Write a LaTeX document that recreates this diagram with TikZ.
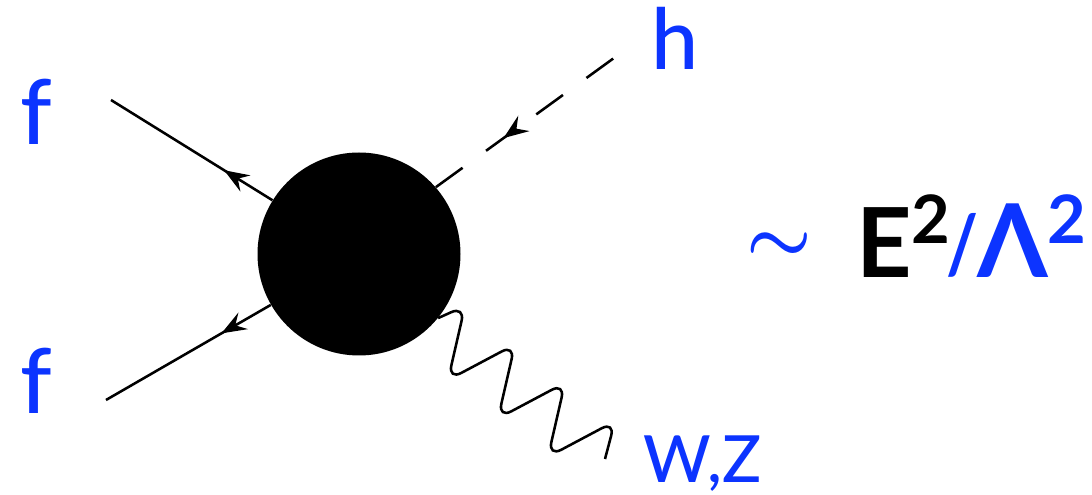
\documentclass[tikz,border=0pt]{standalone}
\usepackage{fontspec}
\setmainfont{Lato Medium}
\newfontfamily\heavyfont{Lato Bold}
\usepackage{xcolor}
\usepackage{tikz}
\usetikzlibrary{arrows.meta,decorations.markings}
\definecolor{labelblue}{RGB}{12,52,255}
\newcommand{\suptwo}{\raisebox{0.68cm}{\fontsize{38}{38}\selectfont 2}}
\begin{document}
\begin{tikzpicture}[
  >={Stealth[length=0.5cm,width=0.38cm,inset=0.18cm]},
  lbl/.style={anchor=base west, inner sep=0pt, text=labelblue, font=\fontsize{48}{48}\selectfont},
  big/.style={lbl, font=\fontsize{#1}{#1}\selectfont\heavyfont},
  line/.style={line width=1.45pt},
  midarrow/.style={postaction={decorate}, decoration={markings, mark=at position #1 with {\arrow{>}}}},
  midarrowback/.style={postaction={decorate}, decoration={markings, mark=at position #1 with {\arrowreversed{>}}}}
]
  \useasboundingbox (0,0) rectangle (21.84,9.9);
  \node[circle, fill=black, inner sep=0pt, minimum size=4.06cm] (blob) at (7.18,4.82) {};

  \coordinate (fa) at (2.22,7.90);
  \coordinate (fb) at (2.12,1.90);
  \coordinate (hend) at (12.28,8.74);
  \coordinate (wend) at (12.10,0.72);

  \node[lbl, font=\fontsize{51}{51}\selectfont] (f1) at (0.40,7.0) {f};
  \node[lbl, font=\fontsize{51}{51}\selectfont] (f2) at (0.40,1.62) {f};
  \node[lbl] (h) at (13.02,8.5) {h};
  \node[lbl, font=\fontsize{37}{37}\selectfont] (wz) at (12.86,0.24) {W,Z};
  \node[lbl, anchor=center] (sim) at (15.58,4.95) {\scalebox{1.68}{\boldmath$\sim$}};
  \node[big=55, text=black] (e2) at (17.12,4.34) {E\suptwo};
  \node[big=46] (slash) at (18.92,4.42) {\scalebox{0.85}[1]{/}};
  \node[big=58] (lam2) at (19.54,4.34) {Λ\suptwo};

  \draw[line, midarrow=0.3] (blob) -- (fa);
  \draw[line, midarrow=0.3] (blob) -- (fb);
  \draw[line, dash pattern=on 0.66cm off 0.58cm, midarrowback=0.38] (blob.41) -- (hend);
  \draw[line, rounded corners=0.3cm] (blob.-39) -- (9.30,3.78) -- (8.96,2.30)
    -- (10.30,3.012) -- (9.96,1.532) -- (11.30,2.244) -- (10.96,0.764)
    -- (12.30,1.476) -- (wend);
\end{tikzpicture}
\end{document}
